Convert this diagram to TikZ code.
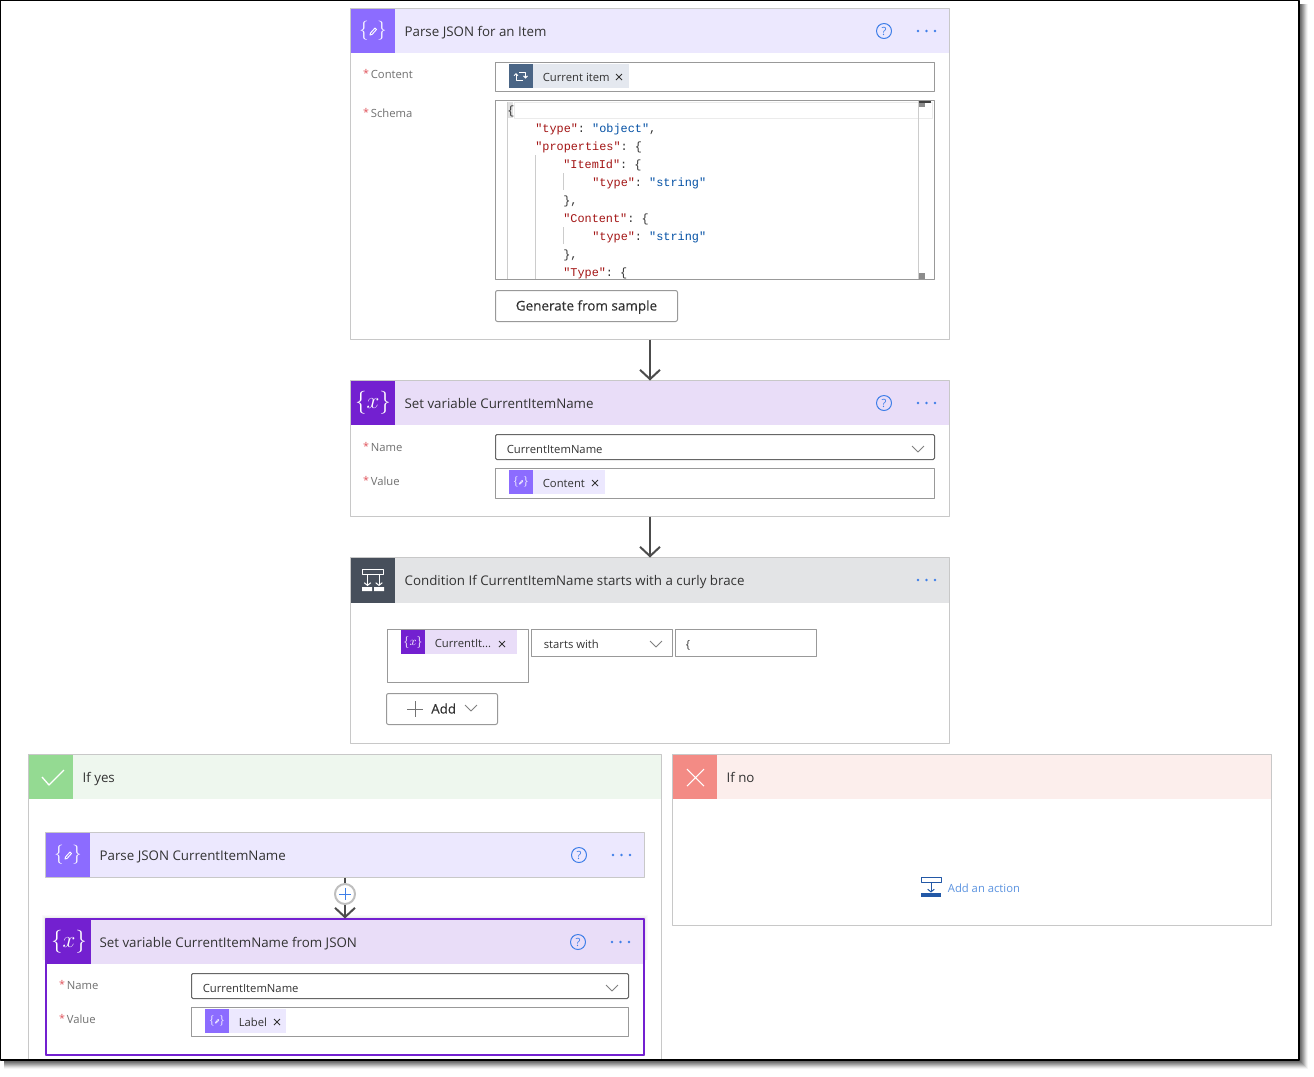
\documentclass[tikz,border=0pt]{standalone}
\usepackage{fontspec}
\setmainfont{Open Sans}
\setmonofont{Liberation Mono}
\newfontfamily\btnfont[FakeBold=0.3]{Open Sans}
\usetikzlibrary{arrows.meta}
\definecolor{cardline}{HTML}{C8C8C8}
\definecolor{fieldline}{HTML}{999999}
\definecolor{darkline}{HTML}{666666}
\definecolor{inktext}{HTML}{333333}
\definecolor{labeltext}{HTML}{707070}
\definecolor{starred}{HTML}{E0525A}
\definecolor{linkblue}{HTML}{3F7FE8}
\definecolor{parsedark}{HTML}{8C6CFF}
\definecolor{parselight}{HTML}{ECE8FE}
\definecolor{vardark}{HTML}{7320D0}
\definecolor{varlight}{HTML}{E9DDF8}
\definecolor{conddark}{HTML}{474F5B}
\definecolor{condlight}{HTML}{E3E4E6}
\definecolor{yesdark}{HTML}{94DA92}
\definecolor{yeslight}{HTML}{EEF7EE}
\definecolor{nodark}{HTML}{F38B85}
\definecolor{nolight}{HTML}{FCEEEC}
\definecolor{loopdark}{HTML}{4A6585}
\definecolor{looplight}{HTML}{E4E8EF}
\definecolor{actionblue}{HTML}{2358A6}
\definecolor{actiontext}{HTML}{5B93E0}
\definecolor{keyred}{HTML}{A31515}
\definecolor{valblue}{HTML}{0451A5}
\newcommand{\ky}[1]{\textcolor{keyred}{#1}}
\newcommand{\vl}[1]{\textcolor{valblue}{#1}}
\tikzset{
  panel/.style={rectangle,inner sep=0pt,outer sep=0pt,line width=0.75pt},
  card/.style={panel,draw=cardline,fill=white},
  field/.style={panel,draw=fieldline,fill=white},
  namefield/.style={panel,draw=darkline,fill=white,rounded corners=1pt},
  btn/.style={panel,draw=fieldline,fill=white,rounded corners=1.5pt},
  headtext/.style={anchor=mid west,inner sep=0pt,yshift=-1.5pt,xshift=-0.5pt,text=inktext,font=\fontsize{10pt}{12pt}\selectfont},
  smalltext/.style={anchor=mid west,inner sep=0pt,yshift=-0.75pt,xshift=-0.3pt,text=inktext,font=\fontsize{8.45pt}{10pt}\selectfont},
  labeltxt/.style={smalltext,text=labeltext},
  startxt/.style={inner sep=0pt,text=starred,font=\fontsize{8pt}{8pt}\selectfont},
  codetxt/.style={anchor=mid west,inner sep=0pt,yshift=-0.75pt,text=inktext,font=\fontsize{8.9pt}{10pt}\ttfamily},
  icontxt/.style={inner sep=0pt,text=white},
  helpmark/.style={circle,draw=linkblue,line width=0.75pt,inner sep=0pt,minimum size=11.25pt,text=linkblue,font=\fontsize{8.5pt}{8pt}\selectfont},
  flow/.style={-{Straight Barb[length=7pt,width=15pt]},draw=black!70,line width=1.5pt},
}
% box from its two corners, in pixels of the reference
\newcommand{\panelbox}[6][card]{\node[#1,minimum width={(#5-#3)*0.75pt},minimum height={(#6-#4)*0.75pt}] (#2) at ({(#3+#5)/2},{(#4+#6)/2}) {};}
\newcommand{\moredots}[2]{\foreach \i in {0,8.5,17} {\fill[linkblue] ({#1+\i},#2) circle (1.4);}}
\newcommand{\chev}[2]{\draw[black!50,line width=0.6pt] ({#1-6},{#2-3}) -- (#1,{#2+3}) -- ({#1+6},{#2-3});}
\newcommand{\chipx}[2]{\draw[inktext,line width=0.65pt] ({#1-3},{#2-3}) -- ({#1+3},{#2+3}) ({#1-3},{#2+3}) -- ({#1+3},{#2-3});}
\newcommand{\pencil}[3]{\draw[white,line width=#3*0.7pt,line join=round] ({#1-#3*3},{#2+#3*4}) -- ({#1-#3*2.5},{#2+#3*2}) -- ({#1+#3*2},{#2-#3*3}) -- ({#1+#3*3.5},{#2-#3*1.5}) -- ({#1-#3*1},{#2+#3*3.5}) -- cycle;}
\newcommand{\parseicon}[5]{\node[icontxt,font=\fontsize{#5pt}{#5pt}\selectfont] (#1) at (#2,#3) {$\{\hspace{0.42em}\}$}; \pencil{#2}{#3}{#4}}
\newcommand{\varicon}[4]{\node[icontxt,font=\fontsize{#4pt}{#4pt}\selectfont] (#1) at (#2,#3) {$\{x\}$};}
\newcommand{\fieldlabel}[4]{\node[startxt] (#1star) at ({#2-5},{#3-1}) {*}; \node[labeltxt] (#1) at (#2,#3) {#4};}
\begin{document}
\begin{tikzpicture}[x=0.75pt,y=-0.75pt,line join=round]
\useasboundingbox (0,0) rectangle (1314,1076);
% window shadow
\foreach \i/\s in {9/4,8/10,7/18,6/27,5/36,4/44,3/52,2/58,1/64}
{
\fill[black!\s] (4,4) rectangle ({1299+\i},{1060+\i});
}
\fill[white] (0,0) rectangle (1299,1060);
%
% Parse JSON for an Item
\panelbox{parseitem}{350.5}{8.5}{949.5}{339.5}
\fill[parselight] (351,9) rectangle (949,53);
\fill[parsedark] (351,9) rectangle (395,53);
\parseicon{parseitemicon}{373}{31}{1}{15}
\node[headtext] (parseitemtitle) at (405,31) {Parse JSON for an Item};
\node[helpmark] (parseitemhelp) at (884,31) {?};
\moredots{918}{31}
\fieldlabel{contentlabel}{371}{74}{Content}
\panelbox[field]{contentfield}{495.5}{62.5}{934.5}{91.5}
\fill[looplight] (509,64) rectangle (629,88);
\fill[loopdark] (509,64) rectangle (533,88);
\draw[white,line width=0.7pt,->,>={Straight Barb[length=1.5pt,width=3pt]}] (519,72.5) -- (525.5,72.5) -- (525.5,78.5);
\draw[white,line width=0.7pt,->,>={Straight Barb[length=1.5pt,width=3pt]}] (523,80.5) -- (516,80.5) -- (516,73);
\node[smalltext] (currentitem) at (543,77) {Current item};
\chipx{619}{77}
\fieldlabel{schemalabel}{371}{113}{Schema}
\panelbox[field]{schemafield}{495.5}{100.5}{934.5}{279.5}
\draw[black!8,line width=0.75pt] (514,102.5) rectangle (932,118);
\fill[black!12] (507,102) rectangle (513,118);
\draw[black!20] (507,102) -- (507,279) (535,155) -- (535,279) (563,173) -- (563,190) (563,227) -- (563,244);
\draw[black!20] (918,101) -- (918,279);
\fill[black!75] (919,101) rectangle (931,103);
\fill[black!45] (919,103) rectangle (925,107);
\fill[black!45] (919,273) rectangle (925,279);
\begin{scope}
\clip (496,101) rectangle (918,279);
\foreach \cx/\cy/\txt in {507/110/{\{},
  535/128/{\ky{"type"}: \vl{"object"},},
  535/146/{\ky{"properties"}: \{},
  563/164/{\ky{"ItemId"}: \{},
  592/182/{\ky{"type"}: \vl{"string"}},
  563/200/{\},},
  563/218/{\ky{"Content"}: \{},
  592/236/{\ky{"type"}: \vl{"string"}},
  563/254/{\},},
  563/272/{\ky{"Type"}: \{}}
{
\node[codetxt] (code\cy) at (\cx,\cy) {\txt};
}
\end{scope}
\panelbox[btn]{generatebtn}{495.5}{290.5}{677.5}{321.5}
\node[inner sep=0pt,yshift=-0.75pt,text=inktext,font=\fontsize{10.1pt}{12pt}\btnfont] (generatetxt) at (586.5,306) {Generate from sample};
%
% Set variable CurrentItemName
\panelbox{setname}{350.5}{380.5}{949.5}{516.5}
\fill[varlight] (351,381) rectangle (949,425);
\fill[vardark] (351,381) rectangle (395,425);
\varicon{setnameicon}{373}{403}{18}
\node[headtext] (setnametitle) at (405,403) {Set variable CurrentItemName};
\node[helpmark] (setnamehelp) at (884,403) {?};
\moredots{918}{403}
\fieldlabel{namelabel}{371}{447}{Name}
\panelbox[namefield]{namefield}{495.5}{434.5}{934.5}{459.5}
\node[smalltext] (nametxt) at (507,449) {CurrentItemName};
\chev{918}{449}
\fieldlabel{valuelabel}{371}{481}{Value}
\panelbox[field]{valuefield}{495.5}{468.5}{934.5}{498.5}
\fill[parselight] (509,470) rectangle (605,494);
\fill[parsedark] (509,470) rectangle (533,494);
\parseicon{contenticon}{521}{482}{0.55}{8}
\node[smalltext] (contenttxt) at (543,483) {Content};
\chipx{595}{483}
%
% Condition
\panelbox{condition}{350.5}{557.5}{949.5}{743.5}
\fill[condlight] (351,558) rectangle (949,603);
\fill[conddark] (351,558) rectangle (395,603);
\draw[white,line width=0.75pt] (362.5,569.5) rectangle (383.5,574);
\draw[white,line width=0.75pt,->,>={Straight Barb[length=2pt,width=5pt]}] (367.5,574) -- (367.5,586);
\draw[white,line width=0.75pt,->,>={Straight Barb[length=2pt,width=5pt]}] (379,574) -- (379,586);
\fill[white] (362,587) rectangle (372,591) (374,587) rectangle (384,591);
\node[headtext] (conditiontitle) at (405,580) {Condition If CurrentItemName starts with a curly brace};
\moredots{918}{580}
\panelbox[field]{condleft}{387.5}{629.5}{528.5}{682.5}
\fill[varlight] (401,630) rectangle (517,654);
\fill[vardark] (401,630) rectangle (425,654);
\varicon{condicon}{413}{642}{9.5}
\node[smalltext] (condtxt) at (435,643) {CurrentIt...};
\chipx{502}{644}
\panelbox[field]{condop}{531.5}{629.5}{672.5}{656.5}
\node[smalltext] (condoptxt) at (544,644) {starts with};
\chev{656}{644}
\panelbox[field]{condright}{675.5}{629.5}{816.5}{656.5}
\node[smalltext] (condrighttxt) at (686,644) {\{};
\panelbox[btn]{addbtn}{386.5}{693.5}{497.5}{724.5}
\draw[black!55,line width=0.7pt] (407,709) -- (423,709) (415,701) -- (415,717);
\node[anchor=mid west,inner sep=0pt,yshift=-0.75pt,text=inktext,font=\fontsize{10pt}{12pt}\btnfont] (addtxt) at (431,709) {Add};
\chev{471}{708}
%
% If yes
\panelbox{ifyes}{28.5}{754.5}{661.5}{1060}
\fill[yeslight] (29,755) rectangle (661,799);
\fill[yesdark] (29,755) rectangle (73,799);
\draw[white,line width=1pt] (42,777) -- (49,785) -- (64,770);
\node[headtext] (ifyestitle) at (83,777) {If yes};
%
\panelbox{parsename}{45.5}{832.5}{644.5}{877.5}
\fill[parselight] (46,833) rectangle (644,877);
\fill[parsedark] (46,833) rectangle (90,877);
\parseicon{parsenameicon}{68}{855}{1}{15}
\node[headtext] (parsenametitle) at (100,855) {Parse JSON CurrentItemName};
\node[helpmark] (parsenamehelp) at (579,855) {?};
\moredots{613}{855}
%
\foreach \i/\s in {4/2,3/4,2/7,1/10}
{
\fill[black!\s] ({46-\i},{919-\i}) rectangle ({644+\i},960);
}
\panelbox{setjson}{45.5}{918.5}{644.5}{1055}
\fill[varlight] (46,920) rectangle (644,964);
\fill[vardark] (46,920) rectangle (91,964);
\draw[vardark,line width=1.5pt] (45.5,919) rectangle (644,1055);
\varicon{setjsonicon}{69}{942}{18}
\node[headtext] (setjsontitle) at (100,942) {Set variable CurrentItemName from JSON};
\node[helpmark] (setjsonhelp) at (578,942) {?};
\moredots{612}{942}
\fieldlabel{namelabelb}{67}{985}{Name}
\panelbox[namefield]{namefieldb}{191.5}{973.5}{628.5}{998.5}
\node[smalltext] (nametxtb) at (203,988) {CurrentItemName};
\chev{612}{988}
\fieldlabel{valuelabelb}{67}{1019}{Value}
\panelbox[field]{valuefieldb}{191.5}{1007.5}{628.5}{1036.5}
\fill[parselight] (205,1009) rectangle (286,1033);
\fill[parsedark] (205,1009) rectangle (229,1033);
\parseicon{labelicon}{217}{1021}{0.55}{8}
\node[smalltext] (labeltxt) at (239,1022) {Label};
\chipx{277}{1022}
%
% If no
\panelbox{ifno}{672.5}{754.5}{1271.5}{925.5}
\fill[nolight] (673,755) rectangle (1271,799);
\fill[nodark] (673,755) rectangle (717,799);
\draw[white,line width=0.8pt] (687,769) -- (704,786) (687,786) -- (704,769);
\node[headtext] (ifnotitle) at (727,777) {If no};
\draw[actionblue,line width=0.75pt] (921.5,877.5) rectangle (941,882.5);
\draw[actionblue,line width=0.75pt,->,>={Straight Barb[length=2pt,width=5pt]}] (931,883) -- (931,892.5);
\fill[actionblue] (921,893) rectangle (941,897);
\node[smalltext,text=actiontext] (addaction) at (948,888) {Add an action};
%
% connectors
\draw[flow] (parseitem.south) -- (setname.north);
\draw[flow] (setname.south) -- (condition.north);
\draw[flow] (parsename.south) -- (setjson.north);
\node[circle,draw=black!25,line width=1.5pt,fill=white,inner sep=0pt,minimum size=15pt] (addstep) at (345,894) {};
\draw[linkblue,line width=0.6pt] (339,894) -- (351,894) (345,888) -- (345,900);
%
% window frame
\node[panel,draw=black,line width=1.1pt,minimum width={1298.5*0.75pt},minimum height={1059.5*0.75pt}] (window) at (649.75,530.25) {};
\end{tikzpicture}
\end{document}
